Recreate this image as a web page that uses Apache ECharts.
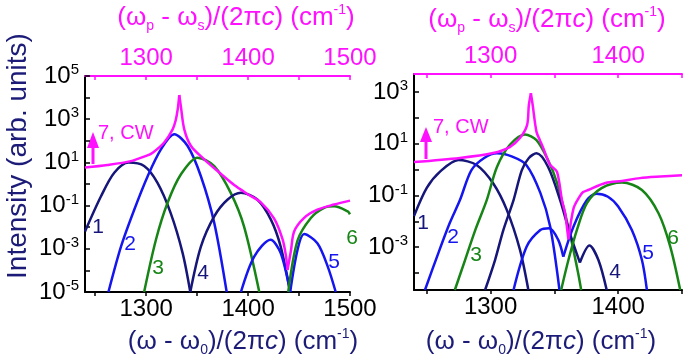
<!DOCTYPE html>
<html>
<head>
<meta charset="utf-8">
<script src="https://cdn.jsdelivr.net/npm/echarts@6/dist/echarts.min.js"></script>
<style>
html, body { margin: 0; padding: 0; background: #fff; }
#main { width: 685px; height: 361px; }
</style>
</head>
<body>
<div id="main"></div>
<script>
// ---- axis ticks and labels ----
const leftTicksX = [1250, 1300, 1350, 1400, 1450, 1500];
const leftLabelsX = [1300, 1400, 1500];
const rightTicksX = [1250, 1300, 1350, 1400, 1450];
const rightLabelsX = [1300, 1400];
const leftTicksY = [-5, -4, -3, -2, -1, 0, 1, 2, 3, 4, 5];   // log10 of intensity
const leftLabelsY = [-5, -3, -1, 1, 3, 5];
const rightTicksY = [-4, -3, -2, -1, 0, 1, 2, 3];
const rightLabelsY = [-3, -1, 1, 3];

// ---- left panel, log10(intensity) ----
const L1x = [1240, 1255.7, 1268.7, 1282.8, 1298, 1311, 1324, 1335.8, 1343.3];
const L1y = [-2.2, -0.57, 0.52, 0.99, 0.83, 0.06, -1.34, -3.2, -5.0];
const L2x = [1263, 1275.3, 1288.3, 1301.5, 1314.5, 1327.6, 1340.7, 1353.7, 1366.8, 1379];
const L2y = [-5.0, -2.9, -1.19, 0.36, 1.6, 2.3, 1.76, 0.36, -1.8, -5.0];
const L3x = [1298, 1309.6, 1321, 1334, 1350.4, 1366.8, 1383, 1396, 1411];
const L3y = [-5.0, -2.58, -0.87, 0.44, 1.22, 0.83, -0.41, -1.96, -5.0];
const L4x = [1343.3, 1353.7, 1366.8, 1380, 1393, 1409, 1422.4, 1432, 1441.3];
const L4y = [-5.0, -2.9, -1.5, -0.72, -0.41, -0.72, -1.65, -2.9, -5.0];
const L5ax = [1393, 1406, 1422, 1432, 1441.3];
const L5ay = [-5.0, -3.36, -2.58, -3.2, -5.0];
const L5bx = [1441.3, 1448.5, 1455, 1468, 1478, 1486];
const L5by = [-5.0, -3.05, -2.32, -2.74, -3.8, -5.0];
const L6x = [1439.4, 1448.5, 1461.6, 1474.6, 1484.4, 1497.5, 1500];
const L6y = [-5.0, -2.62, -1.57, -1.1, -1.03, -1.26, -1.4];
const L7ax = [1240, 1262, 1285, 1300, 1306.4, 1317.7, 1326, 1329, 1331, 1332.5];
const L7ay = [0.76, 0.88, 1.06, 1.3, 1.45, 1.92, 2.53, 2.95, 3.47, 4.12];
const L7bx = [1332.5, 1334, 1337.4, 1344, 1357, 1370, 1386.4, 1399, 1412.5, 1425.6, 1433.8, 1437, 1438.7];
const L7by = [4.12, 3.62, 2.53, 1.76, 1.14, 0.6, -0.05, -0.45, -0.85, -1.6, -2.55, -3.28, -3.98];
const L7cx = [1438.7, 1442, 1445.2, 1455, 1468, 1484.4, 1500];
const L7cy = [-3.98, -3.1, -2.2, -1.57, -1.19, -0.95, -0.77];

// ---- right panel, log10(intensity) ----
const R1x = [1240, 1250, 1260.4, 1274.8, 1289, 1302, 1312.7, 1323, 1329.6];
const R1y = [-1.8, -0.71, -0.08, 0.37, 0.18, -0.53, -1.56, -3.1, -4.66];
const R2x = [1248.6, 1259, 1268, 1276, 1285, 1295, 1305, 1317, 1328, 1339, 1346.7, 1354];
const R2y = [-4.66, -3.24, -2.07, -1.18, -0.02, 0.45, 0.63, 0.5, 0.18, -0.9, -2.2, -4.66];
const R3x = [1272, 1280, 1288, 1297, 1305, 1315, 1327, 1336, 1345, 1352, 1362, 1368.6, 1371];
const R3y = [-4.66, -3.5, -2.34, -1.18, 0.1, 0.95, 1.36, 1.14, 0.37, -0.5, -2.45, -4.0, -4.66];
const R4ax = [1295.7, 1303.5, 1310, 1318, 1324.5, 1330, 1336, 1345, 1354.5, 1362, 1370];
const R4ay = [-4.66, -3.5, -2.34, -1.18, -0.02, 0.45, 0.63, 0.11, -1.18, -2.45, -3.6];
const R4bx = [1370, 1377.5, 1384.5, 1391];
const R4by = [-3.6, -2.94, -3.5, -4.66];
const R5ax = [1318, 1328.3, 1339, 1346, 1353, 1357];
const R5ay = [-4.66, -2.98, -2.34, -2.27, -2.72, -3.37];
const R5bx = [1357, 1365, 1375.5, 1383, 1392, 1400, 1410.7, 1418.6, 1422.5];
const R5by = [-3.37, -2.2, -1.18, -0.93, -1.05, -1.43, -2.34, -3.5, -4.66];
const R6x = [1355.3, 1361, 1367.6, 1375.5, 1387, 1403, 1418.6, 1431.6, 1440.8, 1448.6];
const R6y = [-4.66, -3.5, -2.34, -1.3, -0.72, -0.5, -0.79, -1.69, -2.98, -4.66];
const R7ax = [1240, 1276, 1302, 1315, 1323, 1328.6, 1330, 1331.6];
const R7ay = [0.29, 0.45, 0.64, 0.87, 1.22, 1.72, 2.5, 2.96];
const R7bx = [1331.6, 1333, 1336, 1339, 1341.4, 1346.7, 1352, 1356, 1358.5, 1360, 1361];
const R7by = [2.96, 2.5, 1.46, 1.1, 0.82, 0.18, -0.08, -1.2, -1.7, -2.3, -2.7];
const R7cx = [1361, 1365, 1369, 1372.5, 1376.5, 1390, 1403, 1417, 1433, 1450];
const R7cy = [-2.7, -1.5, -1.1, -0.87, -0.79, -0.52, -0.44, -0.33, -0.27, -0.22];

const NAVY = '#15157a';
const BLUE = '#1515f0';
const GREEN = '#168516';
const MAGENTA = '#ff10ff';
const TITLE = '#1c1c78';
const FONT = '"Liberation Sans", Arial, sans-serif';

const chart = echarts.init(document.getElementById('main'));

function pairs(xs, ys) {
  return xs.map((x, i) => [x, ys[i]]);
}
function line(name, color, gi, xs, ys) {
  return {
    name: name,
    type: 'line',
    xAxisIndex: gi * 2,
    yAxisIndex: gi,
    data: pairs(xs, ys),
    showSymbol: false,
    smooth: 0.3,
    clip: true,
    silent: true,
    lineStyle: { color: color, width: 2.5 },
    itemStyle: { color: color }
  };
}

function xBottom(gi, min, max, ticks, labels) {
  return {
    type: 'value', gridIndex: gi, position: 'bottom', min: min, max: max,
    axisLine: { onZero: false, lineStyle: { color: '#000', width: 2 } },
    axisTick: { customValues: ticks, inside: false, length: 4, lineStyle: { color: '#000', width: 1.5 } },
    axisLabel: { customValues: labels, formatter: (v) => String(v), color: '#000', fontSize: 24, fontFamily: FONT, margin: 5 },
    splitLine: { show: false }
  };
}
function xTop(gi, min, max, ticks, labels) {
  return {
    type: 'value', gridIndex: gi, position: 'top', min: min, max: max,
    axisLine: { onZero: false, lineStyle: { color: MAGENTA, width: 2 } },
    axisTick: { customValues: ticks, inside: true, length: 4, lineStyle: { color: MAGENTA, width: 1.5 } },
    axisLabel: { customValues: labels, formatter: (v) => String(v), color: MAGENTA, fontSize: 24, fontFamily: FONT, margin: 6 },
    splitLine: { show: false }
  };
}
function yLog(gi, min, max, ticks, labels) {
  return {
    type: 'value', gridIndex: gi, min: min, max: max,
    axisLine: { onZero: false, lineStyle: { color: '#000', width: 2 } },
    axisTick: { customValues: ticks, inside: true, length: 5, lineStyle: { color: '#000', width: 1.5 } },
    axisLabel: {
      customValues: labels, margin: 6,
      formatter: (v) => '{b|10}{s|' + v + '}',
      rich: {
        b: { fontSize: 24, fontFamily: FONT, color: '#000', lineHeight: 27 },
        s: { fontSize: 15, fontFamily: FONT, color: '#000', verticalAlign: 'top', lineHeight: 15 }
      }
    },
    splitLine: { show: false }
  };
}

const richTitle = (color) => ({
  sub: { fontSize: 14, fontFamily: FONT, fill: color, verticalAlign: 'bottom', lineHeight: 14 },
  sup: { fontSize: 14, fontFamily: FONT, fill: color, verticalAlign: 'top', lineHeight: 14 },
  it: { fontSize: 26, fontFamily: FONT, fill: color, fontStyle: 'italic', lineHeight: 30 },
  n: { fontSize: 26, fontFamily: FONT, fill: color, lineHeight: 30 }
});
function title(x, y, text, color) {
  return {
    type: 'text', x: x, y: y, silent: true,
    style: { text: text, rich: richTitle(color), fill: color, fontSize: 26, fontFamily: FONT, align: 'center', verticalAlign: 'middle' }
  };
}
function tag(x, y, text, color, size) {
  return {
    type: 'text', x: x, y: y, silent: true,
    style: { text: text, fill: color, fontSize: size || 21, fontFamily: FONT, align: 'center', verticalAlign: 'middle' }
  };
}
function arrow(x, y0, y1, headBase, color) {
  return [
    { type: 'line', silent: true, shape: { x1: x, y1: y0, x2: x, y2: headBase }, style: { stroke: color, lineWidth: 3 } },
    { type: 'polygon', silent: true, shape: { points: [[x - 6, headBase], [x + 6, headBase], [x, y1]] }, style: { fill: color } }
  ];
}

const bottomTxt = '{n|(ω - ω}{sub|0}{n|)/(2π}{it|c}{n|) (cm}{sup|-1}{n|)}';
const topTxt = '{n|(ω}{sub|p}{n| - ω}{sub|s}{n|)/(2π}{it|c}{n|) (cm}{sup|-1}{n|)}';

chart.setOption({
  animation: false,
  backgroundColor: '#fff',
  grid: [
    { left: 85, top: 76, width: 265, height: 216, containLabel: false, outerBoundsMode: 'none' },
    { left: 414, top: 74, width: 268, height: 216, containLabel: false, outerBoundsMode: 'none' }
  ],
  xAxis: [
    xBottom(0, 1240, 1500, leftTicksX, leftLabelsX),
    xTop(0, 1240, 1500, leftTicksX, leftLabelsX),
    xBottom(1, 1240, 1450, rightTicksX, rightLabelsX),
    xTop(1, 1240, 1450, rightTicksX, rightLabelsX)
  ],
  yAxis: [
    yLog(0, -5, 5, leftTicksY, leftLabelsY),
    yLog(1, -4.66, 3.7, rightTicksY, rightLabelsY)
  ],
  series: [
    line('1', NAVY, 0, L1x, L1y),
    line('2', BLUE, 0, L2x, L2y),
    line('3', GREEN, 0, L3x, L3y),
    line('4', NAVY, 0, L4x, L4y),
    line('5', BLUE, 0, L5ax, L5ay),
    line('5', BLUE, 0, L5bx, L5by),
    line('6', GREEN, 0, L6x, L6y),
    line('7, CW', MAGENTA, 0, L7ax, L7ay),
    line('7, CW', MAGENTA, 0, L7bx, L7by),
    line('7, CW', MAGENTA, 0, L7cx, L7cy),
    line('1', NAVY, 1, R1x, R1y),
    line('2', BLUE, 1, R2x, R2y),
    line('3', GREEN, 1, R3x, R3y),
    line('4', NAVY, 1, R4ax, R4ay),
    line('4', NAVY, 1, R4bx, R4by),
    line('5', BLUE, 1, R5ax, R5ay),
    line('5', BLUE, 1, R5bx, R5by),
    line('6', GREEN, 1, R6x, R6y),
    line('7, CW', MAGENTA, 1, R7ax, R7ay),
    line('7, CW', MAGENTA, 1, R7bx, R7by),
    line('7, CW', MAGENTA, 1, R7cx, R7cy)
  ],
  graphic: [
    {
      type: 'text', x: 18, y: 156, rotation: Math.PI / 2, silent: true,
      style: { text: 'Intensity (arb. units)', fill: TITLE, fontSize: 28, fontFamily: FONT, align: 'center', verticalAlign: 'middle' }
    },
    title(243, 342, bottomTxt, TITLE),
    title(541, 342, bottomTxt, TITLE),
    title(236, 18, topTxt, MAGENTA),
    title(547, 20, topTxt, MAGENTA),
    tag(98, 227, '1', NAVY), tag(130, 244, '2', BLUE), tag(158, 268, '3', GREEN),
    tag(203, 273, '4', NAVY), tag(334, 262, '5', BLUE), tag(352, 238, '6', GREEN),
    tag(423, 223, '1', NAVY), tag(453, 237, '2', BLUE), tag(476, 255, '3', GREEN),
    tag(615, 272, '4', NAVY), tag(648, 253, '5', BLUE), tag(673, 238, '6', GREEN),
    {
      type: 'text', x: 98, y: 133, silent: true,
      style: { text: '7, CW', fill: MAGENTA, fontSize: 20, fontFamily: FONT, align: 'left', verticalAlign: 'middle' }
    },
    {
      type: 'text', x: 433, y: 127, silent: true,
      style: { text: '7, CW', fill: MAGENTA, fontSize: 20, fontFamily: FONT, align: 'left', verticalAlign: 'middle' }
    }
  ].concat(arrow(93, 164, 132, 148, MAGENTA), arrow(426, 159, 127, 142, MAGENTA))
});
</script>
</body>
</html>
